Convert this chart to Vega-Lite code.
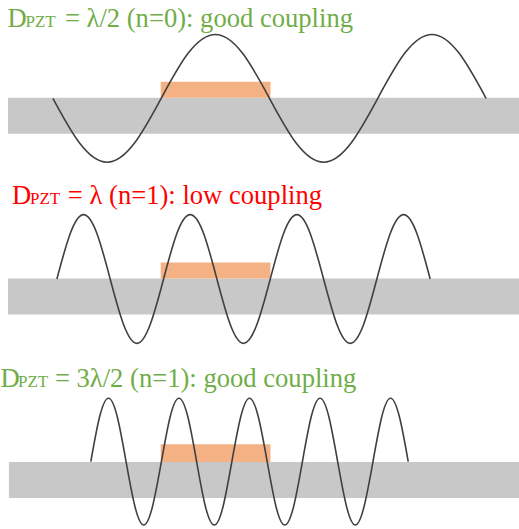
{
  "$schema": "https://vega.github.io/schema/vega-lite/v6.json",
  "width": 519,
  "height": 529,
  "autosize": {"type": "fit", "contains": "padding"},
  "padding": 0,
  "background": "white",
  "config": {"view": {"stroke": null}},
  "datasets": {
    "bars": [
      {"panel": 1, "part": "plate", "x0": 7, "x1": 519, "y0": 98, "y1": 134},
      {"panel": 1, "part": "PZT", "x0": 160, "x1": 270, "y0": 82, "y1": 98},
      {"panel": 2, "part": "plate", "x0": 7, "x1": 519, "y0": 279, "y1": 315},
      {"panel": 2, "part": "PZT", "x0": 160, "x1": 270, "y0": 263, "y1": 279},
      {"panel": 3, "part": "plate", "x0": 8, "x1": 519, "y0": 463, "y1": 499},
      {"panel": 3, "part": "PZT", "x0": 160, "x1": 270, "y0": 445, "y1": 463}
    ],
    "waves": [
      {"panel": 1, "x": 52, "y": 98.5}, {"panel": 1, "x": 79.1, "y": 143.8}, {"panel": 1, "x": 106.3, "y": 162.5},
      {"panel": 1, "x": 133.4, "y": 143.8}, {"panel": 1, "x": 160.5, "y": 98.5}, {"panel": 1, "x": 187.6, "y": 53.2},
      {"panel": 1, "x": 214.8, "y": 34.5}, {"panel": 1, "x": 241.9, "y": 53.2}, {"panel": 1, "x": 269, "y": 98.5},
      {"panel": 1, "x": 296.1, "y": 143.8}, {"panel": 1, "x": 323.3, "y": 162.5}, {"panel": 1, "x": 350.4, "y": 143.8},
      {"panel": 1, "x": 377.5, "y": 98.5}, {"panel": 1, "x": 404.6, "y": 53.2}, {"panel": 1, "x": 431.8, "y": 34.5},
      {"panel": 1, "x": 458.9, "y": 53.2}, {"panel": 1, "x": 486, "y": 98.5},

      {"panel": 2, "x": 56, "y": 279.5}, {"panel": 2, "x": 69.4, "y": 233.9}, {"panel": 2, "x": 82.7, "y": 215},
      {"panel": 2, "x": 96.1, "y": 233.9}, {"panel": 2, "x": 109.4, "y": 279.5}, {"panel": 2, "x": 122.8, "y": 325.1},
      {"panel": 2, "x": 136.2, "y": 344}, {"panel": 2, "x": 149.5, "y": 325.1}, {"panel": 2, "x": 162.9, "y": 279.5},
      {"panel": 2, "x": 176.2, "y": 233.9}, {"panel": 2, "x": 189.6, "y": 215}, {"panel": 2, "x": 203, "y": 233.9},
      {"panel": 2, "x": 216.3, "y": 279.5}, {"panel": 2, "x": 229.7, "y": 325.1}, {"panel": 2, "x": 243, "y": 344},
      {"panel": 2, "x": 256.4, "y": 325.1}, {"panel": 2, "x": 269.8, "y": 279.5}, {"panel": 2, "x": 283.1, "y": 233.9},
      {"panel": 2, "x": 296.5, "y": 215}, {"panel": 2, "x": 309.8, "y": 233.9}, {"panel": 2, "x": 323.2, "y": 279.5},
      {"panel": 2, "x": 336.6, "y": 325.1}, {"panel": 2, "x": 349.9, "y": 344}, {"panel": 2, "x": 363.3, "y": 325.1},
      {"panel": 2, "x": 376.6, "y": 279.5}, {"panel": 2, "x": 390, "y": 233.9}, {"panel": 2, "x": 403.4, "y": 215},
      {"panel": 2, "x": 416.7, "y": 233.9}, {"panel": 2, "x": 430, "y": 279.5},

      {"panel": 3, "x": 90, "y": 462.5}, {"panel": 3, "x": 98.8, "y": 417.6}, {"panel": 3, "x": 107.7, "y": 399},
      {"panel": 3, "x": 116.5, "y": 417.6}, {"panel": 3, "x": 125.3, "y": 462.5}, {"panel": 3, "x": 134.2, "y": 507.4},
      {"panel": 3, "x": 143, "y": 526}, {"panel": 3, "x": 151.8, "y": 507.4}, {"panel": 3, "x": 160.7, "y": 462.5},
      {"panel": 3, "x": 169.5, "y": 417.6}, {"panel": 3, "x": 178.3, "y": 399}, {"panel": 3, "x": 187.2, "y": 417.6},
      {"panel": 3, "x": 196, "y": 462.5}, {"panel": 3, "x": 204.8, "y": 507.4}, {"panel": 3, "x": 213.7, "y": 526},
      {"panel": 3, "x": 222.5, "y": 507.4}, {"panel": 3, "x": 231.3, "y": 462.5}, {"panel": 3, "x": 240.2, "y": 417.6},
      {"panel": 3, "x": 249, "y": 399}, {"panel": 3, "x": 257.8, "y": 417.6}, {"panel": 3, "x": 266.7, "y": 462.5},
      {"panel": 3, "x": 275.5, "y": 507.4}, {"panel": 3, "x": 284.3, "y": 526}, {"panel": 3, "x": 293.2, "y": 507.4},
      {"panel": 3, "x": 302, "y": 462.5}, {"panel": 3, "x": 310.8, "y": 417.6}, {"panel": 3, "x": 319.7, "y": 399},
      {"panel": 3, "x": 328.5, "y": 417.6}, {"panel": 3, "x": 337.3, "y": 462.5}, {"panel": 3, "x": 346.2, "y": 507.4},
      {"panel": 3, "x": 355, "y": 526}, {"panel": 3, "x": 363.8, "y": 507.4}, {"panel": 3, "x": 372.7, "y": 462.5},
      {"panel": 3, "x": 381.5, "y": 417.6}, {"panel": 3, "x": 390.3, "y": 399}, {"panel": 3, "x": 399.2, "y": 417.6},
      {"panel": 3, "x": 408, "y": 462.5}
    ],
    "labels": [
      {"panel": 1, "part": "main", "tone": "good", "x": 6.5, "y": 27, "text": "D"},
      {"panel": 1, "part": "sub", "tone": "good", "x": 24.5, "y": 27, "text": "PZT"},
      {"panel": 1, "part": "main", "tone": "good", "x": 64, "y": 27, "text": "= λ/2 (n=0): good coupling"},
      {"panel": 2, "part": "main", "tone": "low", "x": 11, "y": 204, "text": "D"},
      {"panel": 2, "part": "sub", "tone": "low", "x": 29, "y": 204, "text": "PZT"},
      {"panel": 2, "part": "main", "tone": "low", "x": 67, "y": 204, "text": "= λ (n=1): low coupling"},
      {"panel": 3, "part": "main", "tone": "good", "x": -0.5, "y": 388, "text": "D"},
      {"panel": 3, "part": "sub", "tone": "good", "x": 17, "y": 388, "text": "PZT"},
      {"panel": 3, "part": "main", "tone": "good", "x": 54, "y": 388, "text": "= 3λ/2 (n=1): good coupling"}
    ]
  },
  "resolve": {"scale": {"color": "independent"}},
  "layer": [
    {
      "data": {"name": "bars"},
      "mark": {"type": "rect"},
      "encoding": {
        "x": {"field": "x0", "type": "quantitative", "scale": {"domain": [0, 519], "nice": false, "zero": false}, "axis": null},
        "x2": {"field": "x1"},
        "y": {"field": "y0", "type": "quantitative", "scale": {"domain": [0, 529], "nice": false, "zero": false, "reverse": true}, "axis": null},
        "y2": {"field": "y1"},
        "color": {
          "field": "part",
          "type": "nominal",
          "scale": {"domain": ["plate", "PZT"], "range": ["#c8c8c8", "#f4b183"]},
          "legend": null
        }
      }
    },
    {
      "data": {"name": "waves"},
      "mark": {"type": "line", "interpolate": "natural", "color": "#404040", "strokeWidth": 1.6},
      "encoding": {
        "x": {"field": "x", "type": "quantitative"},
        "y": {"field": "y", "type": "quantitative"},
        "detail": {"field": "panel", "type": "nominal"},
        "order": {"field": "x", "type": "quantitative"}
      }
    },
    {
      "data": {"name": "labels"},
      "transform": [{"filter": "datum.part === 'main'"}],
      "mark": {"type": "text", "align": "left", "baseline": "alphabetic", "font": "Liberation Serif", "fontSize": 26.6},
      "encoding": {
        "x": {"field": "x", "type": "quantitative"},
        "y": {"field": "y", "type": "quantitative"},
        "text": {"field": "text"},
        "color": {
          "field": "tone",
          "type": "nominal",
          "scale": {"domain": ["good", "low"], "range": ["#70ad47", "#ff0000"]},
          "legend": null
        }
      }
    },
    {
      "data": {"name": "labels"},
      "transform": [{"filter": "datum.part === 'sub'"}],
      "mark": {"type": "text", "align": "left", "baseline": "alphabetic", "font": "Liberation Serif", "fontSize": 17},
      "encoding": {
        "x": {"field": "x", "type": "quantitative"},
        "y": {"field": "y", "type": "quantitative"},
        "text": {"field": "text"},
        "color": {
          "field": "tone",
          "type": "nominal",
          "scale": {"domain": ["good", "low"], "range": ["#70ad47", "#ff0000"]},
          "legend": null
        }
      }
    }
  ]
}
